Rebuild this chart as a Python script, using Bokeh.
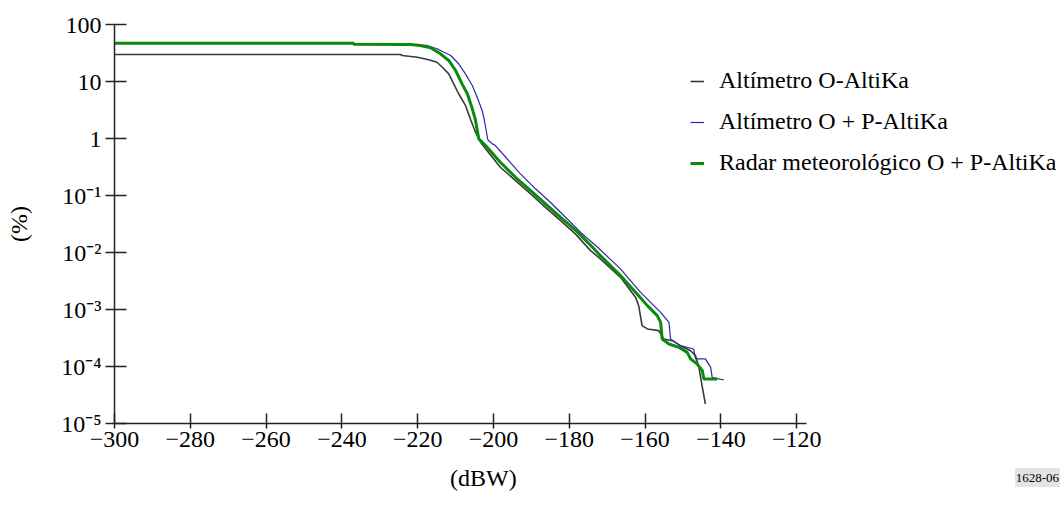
from bokeh.plotting import figure
from bokeh.layouts import column
from bokeh.models import (Range1d, FixedTicker, CustomJSTickFormatter, Legend, LegendItem, Div)
from bokeh.embed import file_html
from bokeh.resources import INLINE

# ---- data ----
x_ticks = [-300, -280, -260, -240, -220, -200, -180, -160, -140, -120]
x_tick_labels = ["\u2212300", "\u2212280", "\u2212260", "\u2212240", "\u2212220",
                 "\u2212200", "\u2212180", "\u2212160", "\u2212140", "\u2212120"]
y_ticks = [1e-5, 1e-4, 1e-3, 1e-2, 1e-1, 1, 10, 100]
y_tick_labels = ["10\u207b\u2075", "10\u207b\u2074", "10\u207b\u00b3", "10\u207b\u00b2",
                 "10\u207b\u00b9", "1", "10", "100"]
x_title = "(dBW)"
y_title = "(%)"
figure_id = "1628-06"

series_names = ["Altímetro O-AltiKa", "Altímetro O + P-AltiKa", "Radar meteorológico O + P-AltiKa"]

o_x = [-300, -224.5, -224.1, -220.1, -217.1, -214.9, -213.5, -211.8, -210.5, -209.2, -207.4,
       -206.1, -204.75, -203.4, -202.1, -198.2, -194.2, -190.2, -186.3, -182.3, -178.4,
       -174.4, -171.8, -166.5, -162.5, -161.7, -160.8, -159.4, -156.4, -155.1, -152.8,
       -150.7, -148.0, -146.7, -145.8, -144.9, -144.1]
o_y = [29.8, 29.8, 28.6, 26.7, 24.1, 21.8, 17.8, 13.6, 9.1, 6.1, 3.8,
       2.2, 1.29, 0.86, 0.66, 0.313, 0.183, 0.107, 0.062, 0.0363, 0.0212,
       0.0108, 0.0077, 0.00367, 0.00163, 0.00117, 0.00052, 0.000456, 0.000426, 0.000304, 0.000284,
       0.000232, 0.000189, 0.000155, 0.0000964, 0.000043, 0.000022]

op_x = [-300, -237.0, -236.8, -217.5, -214.9, -211.3, -209.2, -207.4, -205.6, -204.3, -203.0,
        -202.4, -201.5, -200.3, -199.5, -196.6, -192.9, -188.9, -185.0, -181.0, -177.0,
        -172.6, -166.5, -161.2, -155.9, -153.7, -153.3, -150.7, -147.2, -146.7, -144.1,
        -142.7, -142.3, -139.2]
op_y = [47.0, 47.0, 45.0, 42.9, 37.5, 28.6, 20.5, 13.6, 8.5, 5.3, 3.1,
        2.07, 0.95, 0.805, 0.752, 0.455, 0.240, 0.131, 0.076, 0.0415, 0.0225,
        0.0125, 0.00515, 0.0020, 0.00089, 0.000594, 0.000304, 0.000232, 0.000203, 0.000136, 0.000136,
        0.0000964, 0.0000644, 0.0000579]

r_x = [-300, -237.0, -236.8, -221.9, -219.3, -216.6, -214.0, -211.8, -210.0, -208.3, -206.9,
       -205.6, -204.75, -203.9, -202.1, -198.2, -194.2, -190.2, -186.3, -182.3, -178.0,
       -173.5, -171.8, -166.5, -161.7, -159.4, -156.8, -155.9, -155.5, -153.7, -151.1,
       -148.9, -148.0, -146.3, -144.9, -144.5, -141.0]
r_y = [47.0, 47.0, 45.0, 44.7, 42.9, 39.1, 30.6, 23.4, 15.6, 9.1, 6.1,
       3.32, 2.1, 0.986, 0.752, 0.383, 0.209, 0.122, 0.0713, 0.0415, 0.0235,
       0.0116, 0.0088, 0.00393, 0.00175, 0.00117, 0.00078, 0.000594, 0.000304, 0.000248, 0.000217,
       0.000177, 0.000136, 0.000111, 0.0000844, 0.0000603, 0.0000603]

FONT = "Liberation Serif"

p = figure(width=1060, height=463, output_backend="svg", toolbar_location=None,
           y_axis_type="log",
           x_range=Range1d(-300, -50.4), y_range=Range1d(1e-5, 100),
           min_border=0, min_border_left=114, min_border_top=24,
           min_border_bottom=40, min_border_right=0)
p.outline_line_color = None
p.grid.visible = False
p.background_fill_color = "white"
p.border_fill_color = "white"

# axes
for ax in (p.xaxis[0], p.yaxis[0]):
    ax.axis_line_color = "#222222"
    ax.axis_line_width = 1.5
    ax.major_tick_line_color = "#222222"
    ax.major_tick_line_width = 1.5
    ax.minor_tick_line_color = None
    ax.major_label_text_font = FONT
    ax.major_label_text_font_size = "24px"
    ax.major_label_text_color = "black"

p.xaxis.ticker = FixedTicker(ticks=x_ticks)
p.xaxis.formatter = CustomJSTickFormatter(
    args=dict(xt=x_ticks, xl=x_tick_labels),
    code="const i = xt.indexOf(tick); return i >= 0 ? xl[i] : '';")
p.xaxis.bounds = (-300, -117.4)
p.xaxis.major_tick_in = 10
p.xaxis.major_tick_out = 5
p.xaxis.major_label_standoff = 3

p.yaxis.ticker = FixedTicker(ticks=y_ticks)
p.yaxis.formatter = CustomJSTickFormatter(
    args=dict(yt=y_ticks, yl=y_tick_labels),
    code="""for (let i = 0; i < yt.length; i++) {
  if (Math.abs(Math.log10(yt[i]) - Math.log10(tick)) < 1e-6) return yl[i];
} return '';""")
p.yaxis.major_tick_in = 12
p.yaxis.major_tick_out = 9
p.yaxis.major_label_standoff = 4
p.yaxis.axis_label = y_title
p.yaxis.axis_label_text_font = FONT
p.yaxis.axis_label_text_font_size = "24px"
p.yaxis.axis_label_text_font_style = "normal"
p.yaxis.axis_label_text_color = "black"
p.yaxis.axis_label_standoff = 26

# series
r1 = p.line(o_x, o_y, line_color="#3a3a3a", line_width=1.6)
r2 = p.line(op_x, op_y, line_color="#2a2aa8", line_width=1.2)
r3 = p.line(r_x, r_y, line_color="#0b8a0b", line_width=3)

legend = Legend(items=[LegendItem(label=series_names[0], renderers=[r1]),
                       LegendItem(label=series_names[1], renderers=[r2]),
                       LegendItem(label=series_names[2], renderers=[r3])],
                location=(576, 247))
legend.background_fill_alpha = 0
legend.border_line_alpha = 0
legend.padding = 0
legend.margin = 0
legend.spacing = 14
legend.glyph_width = 14
legend.glyph_height = 20
legend.label_standoff = 15
legend.label_text_font = FONT
legend.label_text_font_size = "24px"
legend.label_text_color = "black"
p.add_layout(legend)

# strip under the chart: x-axis title and figure number
foot = Div(width=1060, height=40, margin=(0, 0, 0, 0), text=(
    '<div style="position:relative;width:1060px;height:40px;'
    'font-family:\'Liberation Serif\',serif;color:black;">'
    '<span style="position:absolute;left:450px;top:1px;font-size:24px;line-height:28px;">'
    + x_title + '</span>'
    '<span style="position:absolute;right:0px;top:5px;font-size:13px;line-height:17px;'
    'background:#e4e4e4;padding:1px 1px;">' + figure_id + '</span>'
    '</div>'))

layout = column(p, foot, spacing=0)
open("out.html", "w").write(file_html(layout, INLINE))
